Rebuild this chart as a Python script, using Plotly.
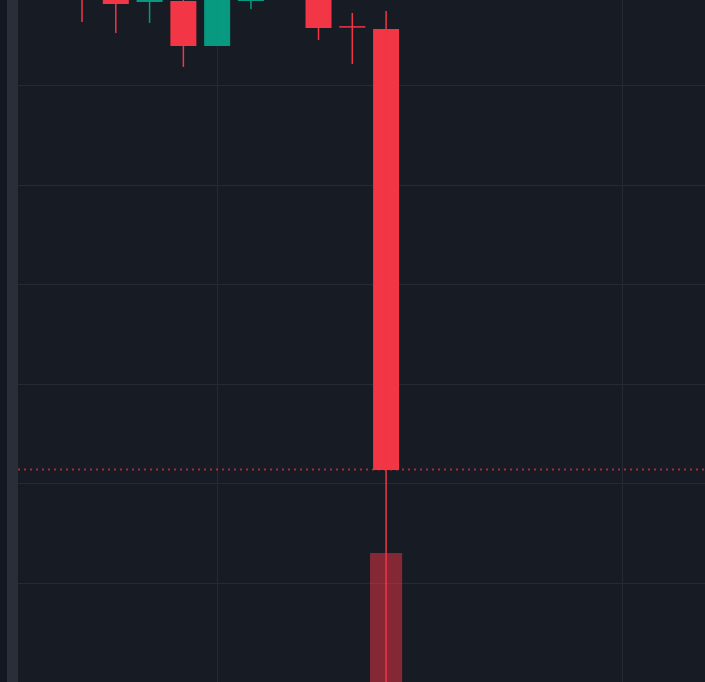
import plotly.graph_objects as go

idx = list(range(10))
opens  = [152.0, 149.5, 148.39, 148.49, 143.98, 148.49, 150.0, 149.5, 145.89, 145.68]
highs  = [153.0, 150.0, 150.0, 149.5, 150.5, 150.0, 151.0, 150.0, 147.29, 147.49]
lows   = [146.39, 145.28, 146.29, 141.87, 143.98, 147.69, 149.2, 144.58, 142.17, 70.0]
closes = [149.5, 148.19, 149.2, 143.98, 149.8, 149.0, 150.5, 145.79, 145.89, 101.41]
volumes = [60, 45, 38, 70, 80, 30, 25, 50, 55, 229]

RED = "#f23645"
GREEN = "#089981"
BG = "#171b24"
GRID = "#262a35"

fig = go.Figure()

# volume
fig.add_trace(go.Bar(
    x=idx, y=volumes, yaxis="y2", width=0.95,
    marker=dict(color=["rgba(242,54,69,0.5)" if c < o else "rgba(8,153,129,0.5)"
                       for o, c in zip(opens, closes)], line=dict(width=0)),
    hoverinfo="skip", showlegend=False))

# wicks
for i, o, h, l, c in zip(idx, opens, highs, lows, closes):
    col = RED if c <= o else GREEN
    fig.add_trace(go.Scatter(x=[i, i], y=[l, h], mode="lines",
                             line=dict(color=col, width=1.5),
                             hoverinfo="skip", showlegend=False))

# bodies
body_base = [min(o, c) for o, c in zip(opens, closes)]
body_h = [abs(c - o) for o, c in zip(opens, closes)]
body_col = [RED if c <= o else GREEN for o, c in zip(opens, closes)]
fig.add_trace(go.Bar(x=idx, y=body_h, base=body_base, width=0.77,
                     marker=dict(color=body_col, line=dict(width=0)),
                     hoverinfo="skip", showlegend=False))

# doji horizontal bars
for i, o, c in zip(idx, opens, closes):
    if abs(c - o) < 0.05:
        fig.add_trace(go.Scatter(x=[i - 0.385, i + 0.385], y=[o, o], mode="lines",
                                 line=dict(color=RED, width=1.5),
                                 hoverinfo="skip", showlegend=False))

# last price line
fig.add_shape(type="line", xref="paper", x0=0, x1=1, yref="y",
              y0=closes[-1] + 0.05, y1=closes[-1] + 0.05,
              line=dict(color="rgba(242,54,69,0.65)", width=2, dash="2px,4px"))

# left margin strip
fig.add_shape(type="rect", xref="paper", yref="paper",
              x0=-11 / 687, x1=0, y0=0, y1=1,
              fillcolor="#2a2e39", line=dict(width=0), layer="below")

fig.update_layout(
    width=705, height=682,
    margin=dict(l=18, r=0, t=0, b=0),
    paper_bgcolor="#131722",
    plot_bgcolor=BG,
    barmode="overlay",
    showlegend=False,
    xaxis=dict(range=[-1.895, 18.44], showticklabels=False, zeroline=False,
               showgrid=True, gridcolor=GRID, tick0=4, dtick=12, fixedrange=True),
    yaxis=dict(range=[80.12, 148.59], showticklabels=False, zeroline=False,
               showgrid=True, gridcolor=GRID, tick0=0, dtick=10),
    yaxis2=dict(range=[100, 782], overlaying="y", showticklabels=False,
                showgrid=False, zeroline=False),
)

fig.write_html("out.html", config={"displayModeBar": False},
               post_script="document.body.style.margin='0';document.body.style.overflow='hidden';document.body.style.background='#131722';")
